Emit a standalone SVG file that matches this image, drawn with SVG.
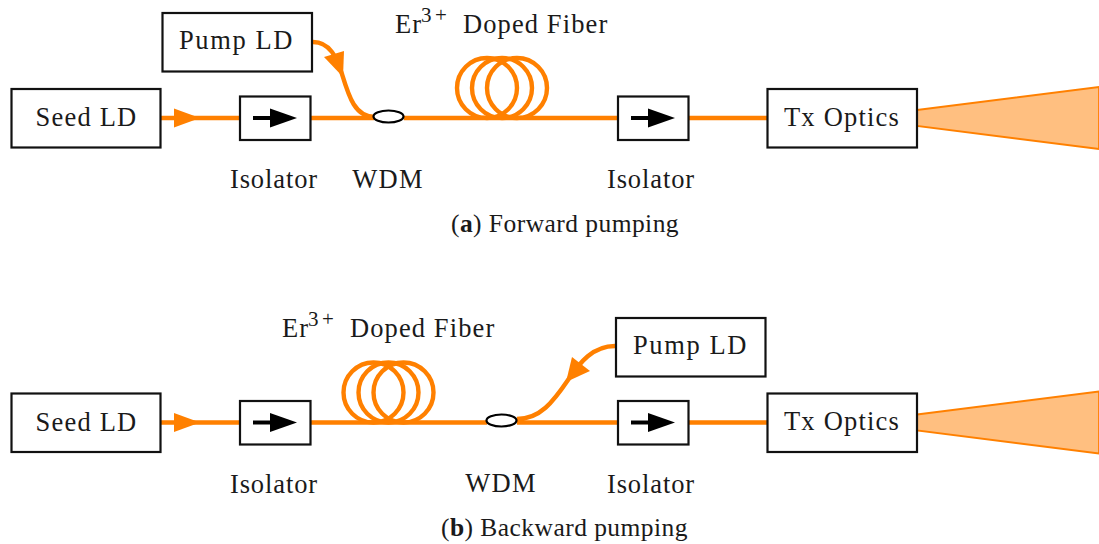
<svg xmlns="http://www.w3.org/2000/svg" width="1099" height="544" viewBox="0 0 1099 544">
<style>
.b{fill:#fff;stroke:#111;stroke-width:2.2}
.f{fill:none;stroke:#ff8000;stroke-width:4.400}
.h{fill:#ff8000;stroke:none}
.w{fill:#fff;stroke:#000;stroke-width:2.2}
.beam{fill:#ffbf80;stroke:#ff8000;stroke-width:1.800}
.ia{stroke:#000;stroke-width:4;fill:none}
text{font-family:"Liberation Serif",serif;font-size:26.500px;fill:#1a1a1a;text-anchor:middle;letter-spacing:1.200px}
.p{letter-spacing:1.600px}
.i{letter-spacing:.9px}
.e{text-anchor:start;letter-spacing:1.100px}
.s{font-size:21px;letter-spacing:3.500px}
.c{font-size:25.500px;letter-spacing:.45px}
</style>
<defs>
<g id="iso"><rect class="b" x="-35" y="-21.500" width="70.500" height="43.500"/><path class="ia" d="M-22 0H-3"/><path d="M-5 -9.500L22 0L-5 9.500Z"/></g>
</defs>
<g id="connectors">
<path class="f" d="M161 118H240M311 118H374M404 118H618M689 118H768"/>
<path class="f" d="M313 42C330 42 337 58 342 74C349 97 355 117 375 117"/>
<path class="h" d="M174 108.500L200 118L174 127.500Z"/>
<path class="h" d="M324 57L344 51L343 77Z"/>
<circle class="f" cx="487" cy="88" r="30"/><circle class="f" cx="502" cy="88" r="30"/><circle class="f" cx="517" cy="88" r="30"/>
<path class="f" d="M161 422.500H240M311 422.500H487M517 422.500H618M689 422.500H768"/>
<path class="f" d="M615 346C593 346 580 362 568 380C553 402 540 419 517 419"/>
<path class="h" d="M174 413L200 422.500L174 432Z"/>
<path class="h" d="M572 357L590 371L566 382Z"/>
<circle class="f" cx="373.500" cy="392.500" r="30"/><circle class="f" cx="388.500" cy="392.500" r="30"/><circle class="f" cx="403.500" cy="392.500" r="30"/>
</g>
<g id="seed-a"><rect class="b" x="11.500" y="89" width="149" height="58.500"/><text x="86.500" y="126">Seed LD</text></g>
<g id="pump-a"><rect class="b" x="162.500" y="13" width="149.500" height="58.500"/><text class="p" x="236.500" y="48.500">Pump LD</text></g>
<g id="iso-a1"><use href="#iso" x="275" y="118"/><text class="i" x="274" y="188">Isolator</text></g>
<g id="wdm-a"><ellipse class="w" cx="388.500" cy="116.500" rx="15" ry="6"/><text x="388" y="188">WDM</text></g>
<g id="fiber-a"><text class="e" x="395" y="33">Er<tspan class="s" x="421" dy="-11">3+</tspan><tspan x="463" dy="11">Doped Fiber</tspan></text></g>
<g id="iso-a2"><use href="#iso" x="653" y="118"/><text class="i" x="651" y="188">Isolator</text></g>
<g id="tx-a"><path class="beam" d="M917 110L1099 87V149L917 126Z"/><rect class="b" x="767.500" y="89" width="149.500" height="58.500"/><text x="842" y="125.500">Tx Optics</text></g>
<text class="c" x="565" y="232">(<tspan font-weight="bold">a</tspan>) Forward pumping</text>
<g id="seed-b"><rect class="b" x="11.500" y="393.500" width="149" height="58.500"/><text x="86.500" y="431">Seed LD</text></g>
<g id="pump-b"><rect class="b" x="616" y="318" width="149.500" height="58.500"/><text class="p" x="690.500" y="353.500">Pump LD</text></g>
<g id="iso-b1"><use href="#iso" x="275" y="422.500"/><text class="i" x="274" y="493">Isolator</text></g>
<g id="wdm-b"><ellipse class="w" cx="501.500" cy="420.500" rx="15" ry="6"/><text x="501" y="492">WDM</text></g>
<g id="fiber-b"><text class="e" x="282" y="337">Er<tspan class="s" x="308" dy="-11">3+</tspan><tspan x="350" dy="11">Doped Fiber</tspan></text></g>
<g id="iso-b2"><use href="#iso" x="653" y="422.500"/><text class="i" x="651" y="493">Isolator</text></g>
<g id="tx-b"><path class="beam" d="M917 414.500L1099 391.500V453.500L917 430.500Z"/><rect class="b" x="767.500" y="393.500" width="149.500" height="58.500"/><text x="842" y="429.500">Tx Optics</text></g>
<text class="c" x="564.500" y="536">(<tspan font-weight="bold">b</tspan>) Backward pumping</text>
</svg>
